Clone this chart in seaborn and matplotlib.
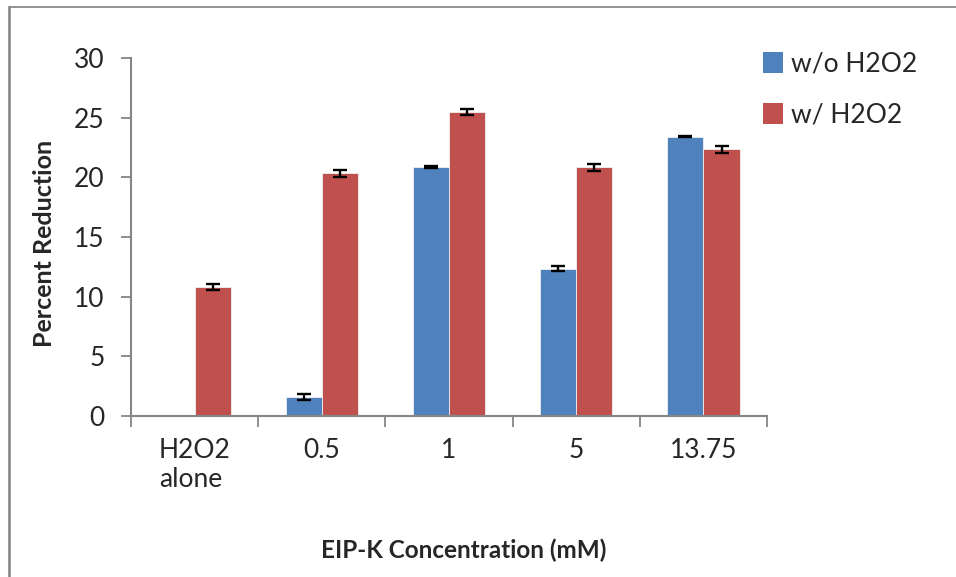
import numpy as np
import pandas as pd
import matplotlib
matplotlib.use("Agg")
import matplotlib.pyplot as plt
from matplotlib.lines import Line2D
from matplotlib.patches import Patch
import seaborn as sns

categories = ["H2O2\nalone", "0.5", "1", "5", "13.75"]
series_names = ["w/o H2O2", "w/ H2O2"]
wo_vals = [np.nan, 1.6, 20.85, 12.35, 23.42]
wo_err = [np.nan, 0.25, 0.08, 0.2, 0.08]
w_vals = [10.85, 20.35, 25.45, 20.85, 22.35]
w_err = [0.25, 0.3, 0.25, 0.3, 0.3]
colors = ["#4F81BD", "#C0504D"]
yticks = [0, 5, 10, 15, 20, 25, 30]

df = pd.DataFrame({
    "cat": categories * 2,
    "val": wo_vals + w_vals,
    "series": [series_names[0]] * 5 + [series_names[1]] * 5,
})
errs = {series_names[0]: wo_err, series_names[1]: w_err}

sns.set_style("white")
plt.rcParams["font.family"] = ["Lato", "DejaVu Sans"]

W, H = 956, 577
fig = plt.figure(figsize=(W / 100, H / 100), dpi=100)
ax = fig.add_axes([131 / W, 1 - 416 / H, (767 - 131) / W, (416 - 58) / H])

sns.barplot(data=df, x="cat", y="val", hue="series", order=categories,
            hue_order=series_names, palette=colors, width=0.57, gap=0,
            errorbar=None, ax=ax, legend=False, saturation=1,
            edgecolor="#f0f0f0", linewidth=0.6)

for cont, name in zip(ax.containers, series_names):
    e = errs[name]
    for bar in cont:
        cx = bar.get_x() + bar.get_width() / 2
        h = bar.get_height()
        if np.isnan(h):
            continue
        idx = int(round(cx))
        ax.errorbar(cx, h, yerr=e[idx], fmt="none", ecolor="black",
                    elinewidth=1.7, capsize=5, capthick=1.7, zorder=5)

ax.set_xlim(-0.5, len(categories) - 0.5)
ax.set_ylim(0, 30)
ax.set_yticks(yticks)
ax.set_yticklabels([str(t) for t in yticks], fontsize=19)
ax.set_xticks(np.arange(-0.5, len(categories), 1))
ax.set_xticklabels([""] * (len(categories) + 1))
ax.set_xticks(np.arange(len(categories)), minor=True)
ax.set_xticklabels(categories, minor=True, fontsize=19, linespacing=1.2,
                   va="top", multialignment="left")
ax.tick_params(axis="x", which="minor", length=0, pad=16)
ax.tick_params(axis="x", which="major", length=8, width=1.3,
               color="#868686", direction="out", bottom=True)
ax.tick_params(axis="y", length=7, width=1.3, color="#868686",
               direction="out", pad=12, left=True)
for s in ["top", "right"]:
    ax.spines[s].set_visible(False)
for s in ["left", "bottom"]:
    ax.spines[s].set_color("#868686")
    ax.spines[s].set_linewidth(1.5)
ax.set_xlabel("")
ax.set_ylabel("")

fig.text(45 / W, 1 - 243 / H, "Percent Reduction", rotation=90,
         fontsize=18, fontweight="bold", ha="center", va="center")
fig.text(464 / W, 1 - 550 / H, "EIP-K Concentration (mM)",
         fontsize=17.5, fontweight="bold", ha="center", va="center")

handles = [Patch(facecolor=c, edgecolor="none") for c in colors]
fig.legend(handles, series_names, loc="upper left",
           bbox_to_anchor=(750 / W, 1 - 38 / H), frameon=False,
           fontsize=19, handlelength=0.75, handleheight=0.85,
           handletextpad=0.3, labelspacing=1.0, borderpad=0)

fig.add_artist(Line2D([9 / W, 9 / W], [0, 1 - 6.5 / H],
                      transform=fig.transFigure, color="#808080", lw=1.8))
fig.add_artist(Line2D([9 / W, 1], [1 - 6.5 / H, 1 - 6.5 / H],
                      transform=fig.transFigure, color="#808080", lw=1.2))

fig.savefig("out.png", dpi=100)
